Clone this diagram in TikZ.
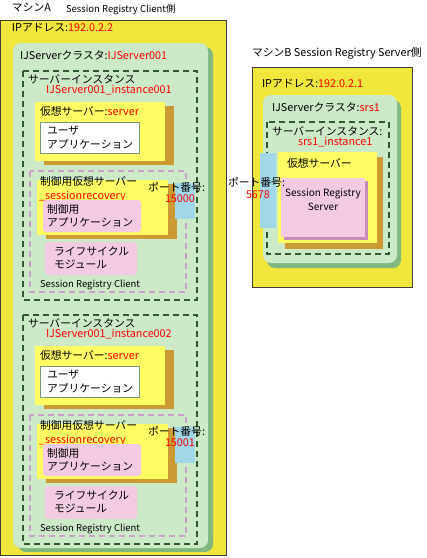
\documentclass[tikz,border=0pt]{standalone}
\usepackage{fontspec}
\setmainfont{Noto Sans CJK JP}
\usetikzlibrary{positioning}

\definecolor{machineyellow}{RGB}{240,230,60}
\definecolor{clustergreen}{RGB}{204,234,200}
\definecolor{clustershadow}{RGB}{128,184,128}
\definecolor{instline}{RGB}{46,90,46}
\definecolor{vsyellow}{RGB}{255,252,100}
\definecolor{vsshadow}{RGB}{204,153,51}
\definecolor{apppink}{RGB}{242,202,226}
\definecolor{pinkline}{RGB}{204,160,204}
\definecolor{pinkshadow}{RGB}{200,140,185}
\definecolor{portblue}{RGB}{160,216,232}
\definecolor{appline}{RGB}{120,150,120}

\begin{document}
\begin{tikzpicture}[x=1pt, y=-1pt,
	every node/.style={inner sep=0pt, outer sep=0pt},
	txt/.style={anchor=west, font=\fontsize{10.8}{13.5}\selectfont},
	small/.style={anchor=west, font=\fontsize{9.5}{11}\selectfont},
	val/.style={text=red},
	machine/.style={fill=machineyellow, draw=black!75, line width=.7pt},
	clustershade/.style={fill=clustershadow, rounded corners=8pt},
	cluster/.style={fill=clustergreen, rounded corners=8pt},
	instance/.style={draw=instline, line width=1.5pt, dash pattern=on 6pt off 4pt},
	ctrlbox/.style={draw=pinkline, line width=1.2pt, dash pattern=on 6pt off 4pt},
	vserver/.style={fill=vsyellow},
	vshade/.style={fill=vsshadow},
	userapp/.style={fill=white, draw=appline, line width=1pt},
	pinkapp/.style={fill=apppink, rounded corners=3pt},
	port/.style={fill=portblue}]
	\useasboundingbox (0,0) rectangle (427,558);

	% machine A
	\path[machine] (0.5,20) rectangle (226,555);
	\node[txt] (ma) at (12,8) {マシンA};
	\node[small] (maside) at (66,10) {Session Registry Client側};
	\node[txt] (ipa) at (12,28) {IPアドレス:\textcolor{red}{192.0.2.2}};
	\path[clustershade] (18,47) rectangle (213,552);
	\path[cluster] (13,43) rectangle (208,548);
	\node[txt] (cla) at (20,55) {IJServerクラスタ:\textcolor{red}{IJServer001}};

	\foreach \n/\dy/\pt in {001/0/15000, 002/244/15001}{
		\begin{scope}[yshift=-\dy pt]
			\draw[instance] (23,71) rectangle (197,300);
			\node[txt] (inst\n) at (28,79) {サーバーインスタンス};
			\node[txt, val] (instname\n) at (46,90) {IJServer001\_instance\n};
			% virtual server
			\path[vshade] (44,106) rectangle (174,165);
			\path[vserver] (35,102) rectangle (165,161);
			\node[txt] (vs\n) at (40,111) {仮想サーバー:\textcolor{red}{server}};
			\draw[userapp] (40,122) rectangle (139,153);
			\node[txt, align=left] (uapp\n) at (47,137.5) {ユーザ\\アプリケーション};
			% control virtual server
			\draw[ctrlbox] (30,171) rectangle (186,292);
			\path[vshade] (46,184) rectangle (177,239);
			\path[vserver] (37,180) rectangle (168,235);
			\node[txt] (cvs\n) at (40,181) {制御用仮想サーバー};
			\node[txt, val] (cvsname\n) at (39,197) {\_sessionrecovery};
			\path[pinkapp] (43,200) rectangle (141,232);
			\node[txt, align=left] (capp\n) at (47,216) {制御用\\アプリケーション};
			\path[pinkapp] (45,242) rectangle (137,275);
			\node[txt, align=left] (lcm\n) at (54,258) {ライフサイクル\\モジュール};
			\node[small] (src\n) at (40,285) {Session Registry Client};
			\path[port] (175,183) rectangle (195,219);
			\node[txt] (portlbl\n) at (148,187) {ポート番号:};
			\node[txt, val] (portno\n) at (165,199) {\pt};
		\end{scope}
	}

	% machine B
	\node[txt] (mb) at (252,53) {マシンB Session Registry Server側};
	\path[machine] (252,67) rectangle (412,287);
	\node[txt] (ipb) at (262,84) {IPアドレス:\textcolor{red}{192.0.2.1}};
	\path[clustershade] (267,100) rectangle (401,268);
	\path[cluster] (263,95) rectangle (397,263);
	\node[txt] (clb) at (272,107) {IJServerクラスタ:\textcolor{red}{srs1}};
	\draw[instance] (267,122) rectangle (389,254);
	\node[txt] (instb) at (272,131) {サーバーインスタンス:};
	\node[txt, val] (instnameb) at (298,142) {srs1\_instance1};
	\path[port] (260,153) rectangle (276,228);
	\path[vshade] (285,157) rectangle (383,249);
	\path[vserver] (278,152) rectangle (377,243);
	\node[txt] (vsb) at (287,163) {仮想サーバー};
	\path[fill=pinkshadow] (284,181) rectangle (368,240);
	\path[fill=apppink] (281,178) rectangle (365,237);
	\node[font=\fontsize{10}{14}\selectfont, align=center] (srs) at (323,200) {Session Registry\\Server};
	\node[txt] (portlblb) at (228,182) {ポート番号:};
	\node[txt, val] (portnob) at (246,195) {5678};
\end{tikzpicture}
\end{document}
